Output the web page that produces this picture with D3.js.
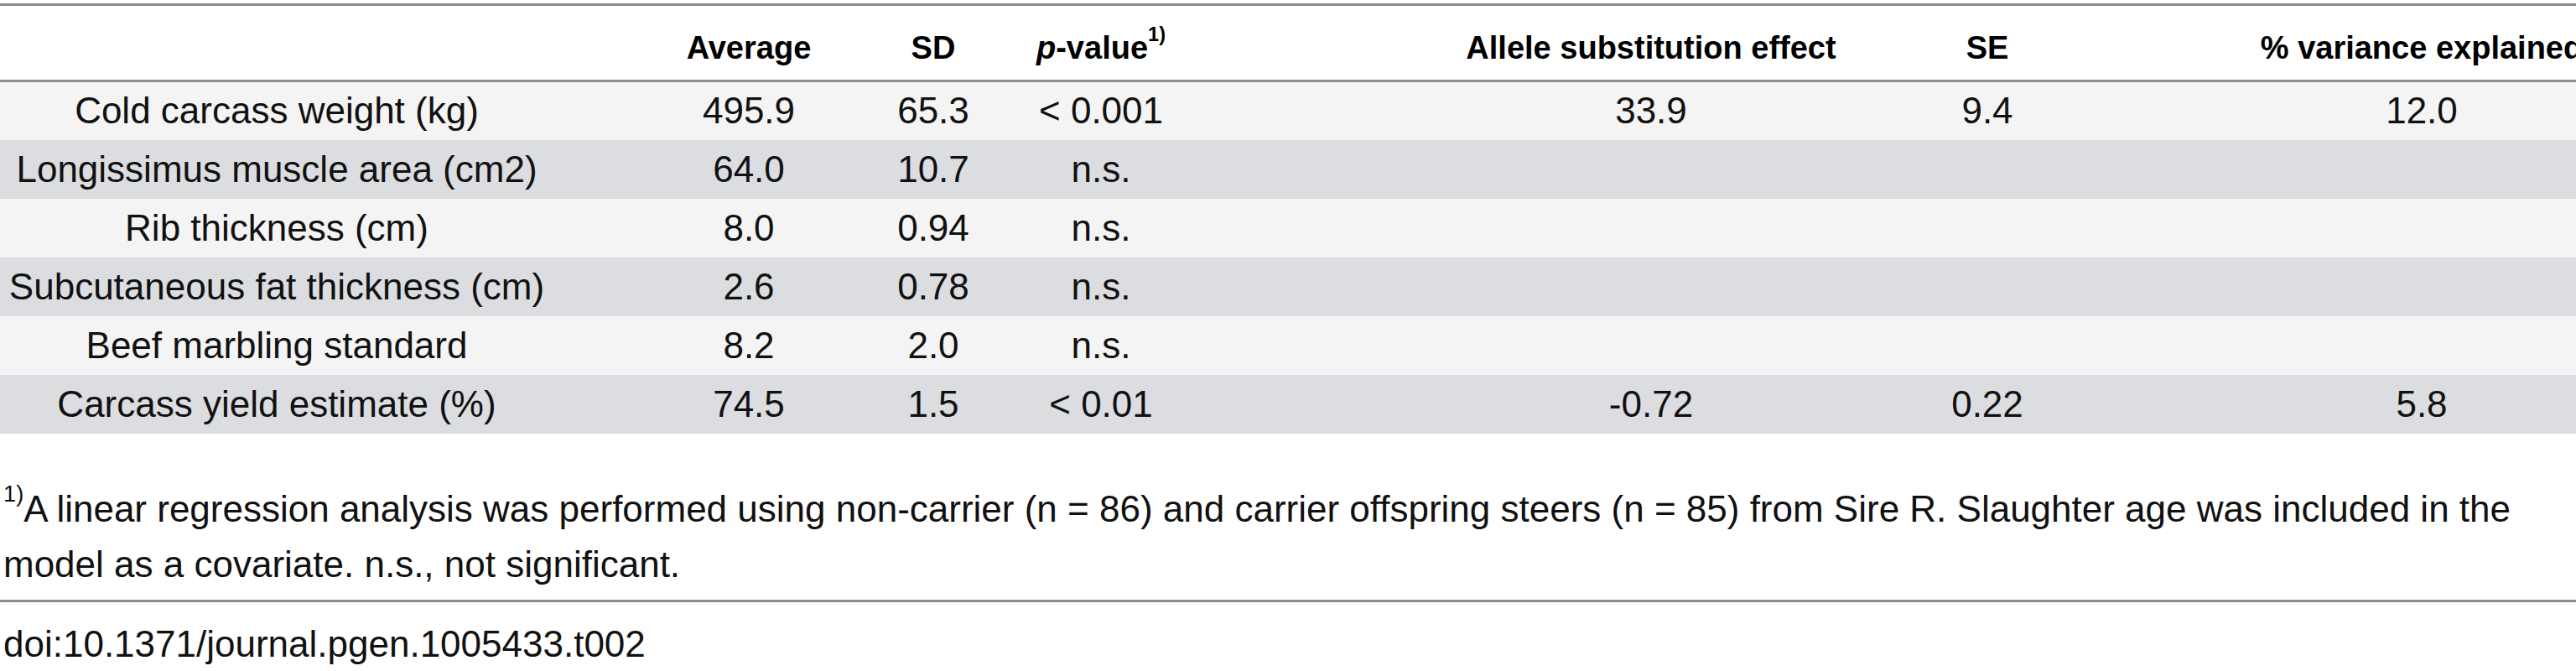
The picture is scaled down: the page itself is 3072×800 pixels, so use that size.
<!DOCTYPE html>
<html><head><meta charset="utf-8">
<script src="https://cdn.jsdelivr.net/npm/d3@7"></script>
<style>body{margin:0;background:#fff}svg{display:block;font-family:"Liberation Sans",Arial,sans-serif}</style>
</head><body>
<svg id="table" width="3072" height="800"></svg>
<script>
const traits = ['Cold carcass weight (kg)', 'Longissimus muscle area (cm2)', 'Rib thickness (cm)',
  'Subcutaneous fat thickness (cm)', 'Beef marbling standard', 'Carcass yield estimate (%)'];
const average = ['495.9', '64.0', '8.0', '2.6', '8.2', '74.5'];
const sd = ['65.3', '10.7', '0.94', '0.78', '2.0', '1.5'];
const pValue = ['< 0.001', 'n.s.', 'n.s.', 'n.s.', 'n.s.', '< 0.01'];
const alleleEffect = ['33.9', '', '', '', '', '-0.72'];
const se = ['9.4', '', '', '', '', '0.22'];
const varianceExplained = ['12.0', '', '', '', '', '5.8'];
const columns = ['trait', 'Average', 'SD', 'p-value', 'Allele substitution effect', 'SE', '% variance explained'];
const footnote = ['A linear regression analysis was performed using non-carrier (n = 86) and carrier offspring steers (n = 85) from Sire R. Slaughter age was included in the',
  'model as a covariate. n.s., not significant.'];
const doi = 'doi:10.1371/journal.pgen.1005433.t002';

const svg = d3.select('#table');
const fs = 44, hfs = 38;
const x = d3.scaleOrdinal().domain(columns).range([330, 893, 1113, 1313, 1969, 2370, 2888]);
const y = d3.scaleBand().domain(d3.range(traits.length)).range([97, 517]);
const rows = traits.map((t, i) => [t, average[i], sd[i], pValue[i], alleleEffect[i], se[i], varianceExplained[i]]);

// row stripes
svg.selectAll('rect.row').data(rows).enter().append('rect')
  .attr('x', 0).attr('y', (d, i) => y(i)).attr('width', 3072).attr('height', y.bandwidth())
  .attr('fill', (d, i) => i % 2 ? '#dcdde0' : '#f4f4f4');

// rules
const rule = yy => svg.append('rect').attr('x', 0).attr('y', yy).attr('width', 3072).attr('height', 3).attr('fill', '#8c8c8c');
rule(4); rule(95); rule(715);

// header
columns.slice(1).forEach(c => {
  const t = svg.append('text').attr('x', x(c)).attr('y', 57).attr('dy', '0.35em')
    .attr('text-anchor', 'middle').attr('font-size', hfs).attr('font-weight', 'bold');
  if (c === 'p-value') {
    t.append('tspan').attr('font-style', 'italic').text('p');
    t.append('tspan').text('-value');
    t.append('tspan').attr('font-size', hfs * 0.62).attr('dy', '-0.9em').text('1)');
  } else t.text(c);
});

// cells
rows.forEach((r, i) => {
  svg.selectAll(null).data(r).enter().append('text')
    .attr('x', (d, j) => x(columns[j])).attr('y', y(i) + y.bandwidth() / 2).attr('dy', '0.35em')
    .attr('text-anchor', 'middle').attr('font-size', fs).attr('fill', '#111').text(d => d);
});

// footnote
const f = svg.append('text').attr('x', 4).attr('y', 613).attr('dy', '0.35em').attr('font-size', fs).attr('fill', '#111');
f.append('tspan').attr('font-size', fs * 0.62).attr('dy', '-0.55em').text('1)');
f.append('tspan').attr('dy', '0.55em').text(footnote[0]);
svg.append('text').attr('x', 4).attr('y', 673).attr('dy', '0.35em').attr('font-size', fs).attr('fill', '#111').text(footnote[1]);
svg.append('text').attr('x', 4).attr('y', 768).attr('dy', '0.35em').attr('font-size', fs).attr('fill', '#111').text(doi);
</script>
</body></html>
